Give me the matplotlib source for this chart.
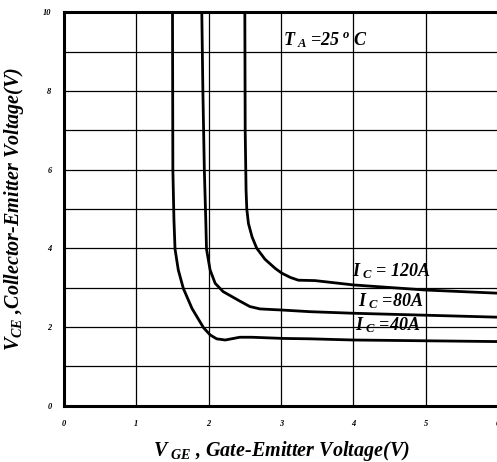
import matplotlib
matplotlib.use("Agg")
import matplotlib.pyplot as plt

plt.rcParams['font.family'] = ['Liberation Serif', 'DejaVu Serif']
plt.rcParams['mathtext.fontset'] = 'custom'
plt.rcParams['mathtext.rm'] = 'Liberation Serif:bold:italic'
plt.rcParams['mathtext.it'] = 'Liberation Serif:bold:italic'
plt.rcParams['mathtext.bf'] = 'Liberation Serif:bold:italic'

# Data
vge_40 = [1.50, 1.505, 1.52, 1.535, 1.58, 1.65, 1.77, 1.93, 2.02, 2.11, 2.23, 2.43, 2.60, 3.03, 3.40, 4.0, 5.0, 6.0]
vce_40 = [10.0, 6.0, 4.72, 3.98, 3.45, 2.98, 2.47, 1.98, 1.80, 1.70, 1.67, 1.74, 1.74, 1.71, 1.70, 1.67, 1.65, 1.63]

vge_80 = [1.905, 1.92, 1.94, 1.96, 1.97, 2.02, 2.09, 2.20, 2.43, 2.57, 2.71, 3.03, 3.40, 4.0, 5.0, 6.0]
vce_80 = [10.0, 8.0, 6.0, 4.72, 3.98, 3.45, 3.11, 2.90, 2.66, 2.52, 2.46, 2.43, 2.39, 2.35, 2.30, 2.25]

vge_120 = [2.50, 2.505, 2.517, 2.527, 2.55, 2.60, 2.665, 2.78, 2.92, 3.01, 3.13, 3.24, 3.47, 4.0, 5.0, 6.0]
vce_120 = [10.0, 7.0, 5.48, 5.0, 4.63, 4.29, 4.0, 3.72, 3.49, 3.37, 3.26, 3.19, 3.18, 3.07, 2.94, 2.86]

x_ticks = [0, 1, 2, 3, 4, 5, 6]
y_ticks = [0, 2, 4, 6, 8, 10]
y_grid = [1, 2, 3, 4, 5, 6, 7, 8, 9]

fig = plt.figure(figsize=(4.97, 4.62), dpi=100)
ax = fig.add_axes([64 / 497, (462 - 405.7) / 462, 434 / 497, (405.7 - 12.3) / 462])

for v in x_ticks[1:-1]:
    ax.axvline(v, color='black', lw=0.9, zorder=1)
for v in y_grid:
    ax.axhline(v, color='black', lw=0.9, zorder=1)

for xs, ys in [(vge_40, vce_40), (vge_80, vce_80), (vge_120, vce_120)]:
    ax.plot(xs, ys, color='black', lw=2.0, solid_joinstyle='round', solid_capstyle='round', zorder=3)

ax.set_xlim(0, 6)
ax.set_ylim(0, 10)
ax.set_xticks(x_ticks)
ax.set_yticks(y_ticks)
ax.set_xticklabels([str(t) for t in x_ticks], fontsize=6, fontweight='bold', fontstyle='italic')
ax.set_yticklabels([str(t) for t in y_ticks], fontsize=6, fontweight='bold', fontstyle='italic')
ax.tick_params(length=0, pad=10)
ax.tick_params(axis='y', pad=9)
for s in ax.spines.values():
    s.set_linewidth(2.2)
ax.spines['right'].set_visible(False)

lkw = dict(fontsize=14.5, fontweight='bold', fontstyle='italic', color='black')
ax.set_xlabel(r'$V_{\ GE}$ , Gate-Emitter Voltage(V)', labelpad=8, **lkw)
ax.set_ylabel(r'$V_{CE}$ ,Collector-Emitter Voltage(V)', labelpad=12, **lkw)

tkw = dict(fontsize=13, fontweight='bold', fontstyle='italic', color='black', ha='left', va='center')
ax.text(3.03, 9.3, r'$T_{\ A}$ =25$^{\ o}$ C', **tkw)
ax.text(3.98, 3.42, r'$I_{\ C}$ = 120A', **tkw)
ax.text(4.06, 2.66, r'$I_{\ C}$ =80A', **tkw)
ax.text(4.02, 2.04, r'$I_{\ C}$ =40A', **tkw)

fig.savefig('out.png', dpi=100)
